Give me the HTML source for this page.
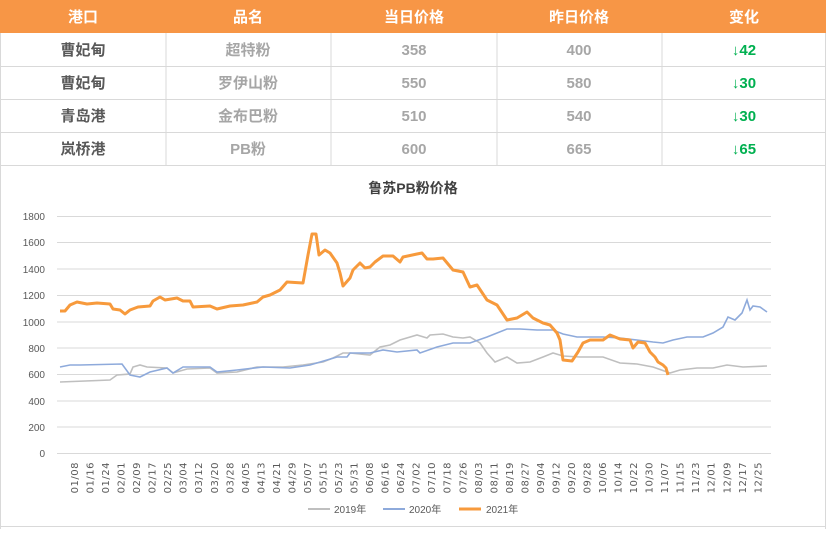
<!DOCTYPE html>
<html><head><meta charset="utf-8"><style>
body{margin:0;background:#fff;width:826px;height:529px;overflow:hidden;font-family:"Liberation Sans","Noto Sans CJK SC",sans-serif}
</style></head><body>
<svg width="826" height="529" xmlns="http://www.w3.org/2000/svg" font-family="Liberation Sans, Noto Sans CJK SC, sans-serif">
<rect x="0" y="0" width="826" height="33" fill="#F79646"/>
<g font-size="15" font-weight="bold" fill="#fff" text-anchor="middle">
<text x="83" y="22">港口</text><text x="248" y="22">品名</text><text x="414" y="22">当日价格</text><text x="579" y="22">昨日价格</text><text x="744" y="22">变化</text>
</g>
<g stroke="#d9d9d9" stroke-width="1" fill="none">
<line x1="0" y1="66.5" x2="826" y2="66.5"/><line x1="0" y1="99.5" x2="826" y2="99.5"/><line x1="0" y1="132.5" x2="826" y2="132.5"/><line x1="0" y1="165.5" x2="826" y2="165.5"/>
<line x1="166" y1="33" x2="166" y2="165"/><line x1="331" y1="33" x2="331" y2="165"/><line x1="497" y1="33" x2="497" y2="165"/><line x1="662" y1="33" x2="662" y2="165"/>
<line x1="0.5" y1="33" x2="0.5" y2="529"/><line x1="825.5" y1="33" x2="825.5" y2="529"/><line x1="0" y1="526.5" x2="826" y2="526.5"/>
</g>
<g font-size="15" font-weight="bold" text-anchor="middle">
<g fill="#595959"><text x="83" y="55">曹妃甸</text><text x="83" y="88">曹妃甸</text><text x="83" y="121">青岛港</text><text x="83" y="154">岚桥港</text></g>
<g fill="#a6a6a6"><text x="248" y="55">超特粉</text><text x="248" y="88">罗伊山粉</text><text x="248" y="121">金布巴粉</text><text x="248" y="154">PB粉</text>
<text x="414" y="55">358</text><text x="414" y="88">550</text><text x="414" y="121">510</text><text x="414" y="154">600</text>
<text x="579" y="55">400</text><text x="579" y="88">580</text><text x="579" y="121">540</text><text x="579" y="154">665</text></g>
<g fill="#00b050"><text x="744" y="55">↓42</text><text x="744" y="88">↓30</text><text x="744" y="121">↓30</text><text x="744" y="154">↓65</text></g>
</g>
<text x="413" y="193" font-size="14" font-weight="bold" fill="#404040" text-anchor="middle">鲁苏PB粉价格</text>
<g stroke="#d9d9d9" stroke-width="1">
<line x1="57" y1="216.5" x2="771" y2="216.5"/><line x1="57" y1="242.5" x2="771" y2="242.5"/><line x1="57" y1="269" x2="771" y2="269"/><line x1="57" y1="295.5" x2="771" y2="295.5"/><line x1="57" y1="322" x2="771" y2="322"/><line x1="57" y1="348" x2="771" y2="348"/><line x1="57" y1="374.5" x2="771" y2="374.5"/><line x1="57" y1="401" x2="771" y2="401"/><line x1="57" y1="427" x2="771" y2="427"/><line x1="57" y1="453.5" x2="771" y2="453.5"/>
</g>
<g font-size="10" fill="#595959" text-anchor="end">
<text x="45" y="220">1800</text><text x="45" y="246">1600</text><text x="45" y="273">1400</text><text x="45" y="299">1200</text><text x="45" y="326">1000</text><text x="45" y="352">800</text><text x="45" y="378">600</text><text x="45" y="405">400</text><text x="45" y="431">200</text><text x="45" y="457">0</text>
</g>
<polyline fill="none" stroke="#bfbfbf" stroke-width="1.6" points="60,382 110,380 117,375 130,374 133,367 140,365 147,367 167,368 173,373 187,369 210,368 217,373 237,372 257,367 283,367 303,365 323,362 333,358 343,353 350,353 370,355 380,347 390,345 400,340 417,335 427,338 430,335 443,334 453,337 463,338 470,337 480,343 487,353 495,362 507,357 517,363 530,362 543,357 553,353 563,356 580,357 603,357 620,363 637,364 653,367 670,373 680,370 697,368 713,368 727,365 743,367 767,366"/>
<polyline fill="none" stroke="#8eaadb" stroke-width="1.6" points="60,367 70,365 80,365 122,364 130,375 140,377 150,372 167,368 173,373 183,367 210,367 217,372 237,370 263,367 290,368 310,365 327,360 337,357 347,357 350,353 370,353 383,350 397,352 417,350 420,353 437,347 453,343 470,343 487,337 507,329 520,329 537,330 553,330 563,334 577,337 587,337 603,337 620,338 637,340 653,342 663,343 673,340 687,337 703,337 713,333 723,327 728,317 735,320 742,313 747,300 750,310 753,306 760,307 767,312"/>
<polyline fill="none" stroke="#f79a3c" stroke-width="3" stroke-linejoin="round" points="60,311 65,311 70,305 77,302 87,304 97,303 110,304 113,309 120,310 125,314 130,310 138,307 150,306 153,301 160,297 165,300 177,298 183,301 190,301 193,307 210,306 217,309 230,306 243,305 257,302 263,297 270,295 280,290 287,282 303,283 308,255 312,234 316,234 319,255 325,250 330,253 337,263 340,273 343,286 350,278 353,270 360,263 365,268 370,267 375,262 383,256 393,256 400,262 403,257 417,254 422,253 427,259 433,259 443,258 453,270 463,272 470,287 477,285 487,300 497,305 507,320 517,318 527,312 533,318 543,323 550,325 557,333 560,340 563,360 572,361 578,352 583,343 590,340 603,340 610,335 620,339 630,340 633,348 638,342 645,343 650,352 655,357 658,362 663,365 666,368 668,375"/>
<g font-size="10" fill="#595959">
<line x1="308" y1="509" x2="330" y2="509" stroke="#bfbfbf" stroke-width="2"/><text x="334" y="513">2019年</text>
<line x1="383" y1="509" x2="405" y2="509" stroke="#8eaadb" stroke-width="2"/><text x="409" y="513">2020年</text>
<line x1="459" y1="509" x2="481" y2="509" stroke="#f79a3c" stroke-width="3"/><text x="486" y="513">2021年</text>
</g>
<g font-size="10" fill="#595959" font-family="DejaVu Sans, sans-serif" letter-spacing="0.5" text-anchor="end">
<text transform="translate(78,462) rotate(-90)">01/08</text>
<text transform="translate(93.5,462) rotate(-90)">01/16</text>
<text transform="translate(109.1,462) rotate(-90)">01/24</text>
<text transform="translate(124.6,462) rotate(-90)">02/01</text>
<text transform="translate(140.1,462) rotate(-90)">02/09</text>
<text transform="translate(155.7,462) rotate(-90)">02/17</text>
<text transform="translate(171.2,462) rotate(-90)">02/25</text>
<text transform="translate(186.7,462) rotate(-90)">03/04</text>
<text transform="translate(202.2,462) rotate(-90)">03/12</text>
<text transform="translate(217.8,462) rotate(-90)">03/20</text>
<text transform="translate(233.3,462) rotate(-90)">03/28</text>
<text transform="translate(248.8,462) rotate(-90)">04/05</text>
<text transform="translate(264.4,462) rotate(-90)">04/13</text>
<text transform="translate(279.9,462) rotate(-90)">04/21</text>
<text transform="translate(295.4,462) rotate(-90)">04/29</text>
<text transform="translate(311,462) rotate(-90)">05/07</text>
<text transform="translate(326.5,462) rotate(-90)">05/15</text>
<text transform="translate(342,462) rotate(-90)">05/23</text>
<text transform="translate(357.5,462) rotate(-90)">05/31</text>
<text transform="translate(373.1,462) rotate(-90)">06/08</text>
<text transform="translate(388.6,462) rotate(-90)">06/16</text>
<text transform="translate(404.1,462) rotate(-90)">06/24</text>
<text transform="translate(419.7,462) rotate(-90)">07/02</text>
<text transform="translate(435.2,462) rotate(-90)">07/10</text>
<text transform="translate(450.7,462) rotate(-90)">07/18</text>
<text transform="translate(466.3,462) rotate(-90)">07/26</text>
<text transform="translate(481.8,462) rotate(-90)">08/03</text>
<text transform="translate(497.3,462) rotate(-90)">08/11</text>
<text transform="translate(512.8,462) rotate(-90)">08/19</text>
<text transform="translate(528.4,462) rotate(-90)">08/27</text>
<text transform="translate(543.9,462) rotate(-90)">09/04</text>
<text transform="translate(559.4,462) rotate(-90)">09/12</text>
<text transform="translate(575,462) rotate(-90)">09/20</text>
<text transform="translate(590.5,462) rotate(-90)">09/28</text>
<text transform="translate(606,462) rotate(-90)">10/06</text>
<text transform="translate(621.6,462) rotate(-90)">10/14</text>
<text transform="translate(637.1,462) rotate(-90)">10/22</text>
<text transform="translate(652.6,462) rotate(-90)">10/30</text>
<text transform="translate(668.1,462) rotate(-90)">11/07</text>
<text transform="translate(683.7,462) rotate(-90)">11/15</text>
<text transform="translate(699.2,462) rotate(-90)">11/23</text>
<text transform="translate(714.7,462) rotate(-90)">12/01</text>
<text transform="translate(730.3,462) rotate(-90)">12/09</text>
<text transform="translate(745.8,462) rotate(-90)">12/17</text>
<text transform="translate(761.3,462) rotate(-90)">12/25</text>
</g>
</svg>
</body></html>
